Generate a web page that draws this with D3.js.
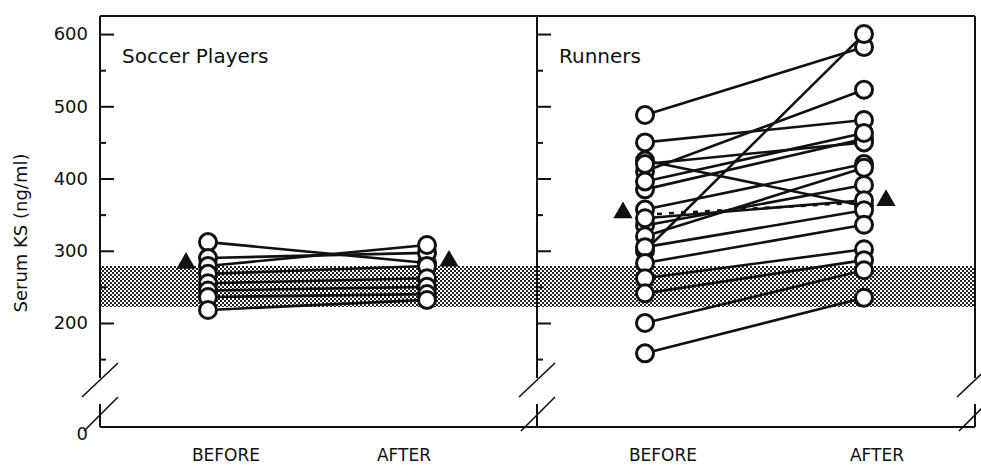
<!DOCTYPE html>
<html>
<head>
<meta charset="utf-8">
<script src="https://cdn.jsdelivr.net/npm/d3@7"></script>
<style>
  body { margin: 0; background: #fff; }
  svg text { font-family: "DejaVu Sans", "Liberation Sans", Arial, sans-serif; fill: #111; }
</style>
</head>
<body>
<div id="chart"></div>
<script>
// values (ng/ml)
var phases = ["BEFORE", "AFTER"];
var yTickValues = [0, 200, 300, 400, 500, 600];
var yMinorValues = [150, 250, 350, 450, 550];
var normalRange = [222, 279];

var soccerBefore = [312, 290, 279, 268, 255, 245, 236, 218];
var soccerAfter  = [283, 297, 308, 279, 262, 250, 240, 232];
var soccerMean   = [280, 283];

var runnersBefore = [488, 300, 410, 450, 425, 385, 420, 357, 396, 335, 345, 320, 305, 283, 262, 241, 200, 158];
var runnersAfter  = [582, 600, 523, 481, 362, 455, 450, 420, 463, 391, 370, 415, 356, 336, 302, 287, 273, 235];
var runnersMean   = [350, 367];

var width = 981, height = 469
var plotTop = 16, plotBottom = 427
var panels = [
  {name: "Soccer Players", left: 100, right: 537, before: soccerBefore, after: soccerAfter, mean: soccerMean, dashed: false, labelShift: [18, -23]},
  {name: "Runners", left: 537, right: 975, before: runnersBefore, after: runnersAfter, mean: runnersMean, dashed: true, labelShift: [18, 13]}
]

var svg = d3.select("#chart").append("svg")
    .attr("width", width)
    .attr("height", height)

// broken scale: 0 sits on the floor, 110..625 is linear above the break
var y = d3.scaleLinear().domain([0, 110, 625]).range([plotBottom, 388, plotTop])

var pat = svg.append("defs").append("pattern")
    .attr("id", "dots")
    .attr("patternUnits", "userSpaceOnUse")
    .attr("width", 4).attr("height", 4)
pat.append("rect").attr("width", 4).attr("height", 4).attr("fill", "#fff")
pat.append("rect").attr("x", 0).attr("y", 0).attr("width", 2).attr("height", 2).attr("fill", "#222")
pat.append("rect").attr("x", 2).attr("y", 2).attr("width", 2).attr("height", 2).attr("fill", "#222")

// shaded normal range across both panels
svg.append("rect")
    .attr("x", panels[0].left)
    .attr("y", y(normalRange[1]))
    .attr("width", panels[1].right - panels[0].left)
    .attr("height", y(normalRange[0]) - y(normalRange[1]))
    .attr("fill", "url(#dots)")
    .attr("shape-rendering", "crispEdges")

var frame = svg.append("g").attr("stroke", "#111").attr("stroke-width", 2).attr("fill", "none")
frame.append("line").attr("x1", panels[0].left).attr("x2", panels[1].right).attr("y1", plotTop).attr("y2", plotTop)
frame.append("line").attr("x1", panels[0].left).attr("x2", panels[1].right).attr("y1", plotBottom).attr("y2", plotBottom)

var gapTop = 378, gapBottom = 404
;[panels[0].left, panels[1].left, panels[1].right].forEach(function(x) {
  frame.append("line").attr("x1", x).attr("x2", x).attr("y1", plotTop).attr("y2", gapTop)
  frame.append("line").attr("x1", x).attr("x2", x).attr("y1", gapBottom).attr("y2", plotBottom)
  frame.append("line").attr("x1", x - 18).attr("y1", 397).attr("x2", x + 18).attr("y2", 363).attr("stroke-width", 1.6)
  frame.append("line").attr("x1", x - 16).attr("y1", 431).attr("x2", x + 18).attr("y2", 397).attr("stroke-width", 1.6)
})

// inward ticks on both panel left edges
panels.forEach(function(p) {
  var major = svg.append("g")
      .attr("transform", "translate(" + p.left + ",0)")
      .call(d3.axisRight(y).tickValues(yTickValues.slice(1)).tickSize(14).tickFormat(""))
  var minor = svg.append("g")
      .attr("transform", "translate(" + p.left + ",0)")
      .call(d3.axisRight(y).tickValues(yMinorValues).tickSize(6).tickFormat(""))
  ;[major, minor].forEach(function(g) {
    g.select(".domain").remove()
    g.selectAll("line").attr("stroke", "#111").attr("stroke-width", 2)
  })
})

var yLabels = svg.append("g")
    .attr("transform", "translate(" + panels[0].left + ",0)")
    .call(d3.axisLeft(y).tickValues(yTickValues).tickSize(0).tickPadding(12))
yLabels.select(".domain").remove()
yLabels.selectAll("text")
    .attr("font-size", 18)
    .attr("font-family", "DejaVu Sans, Liberation Sans, Arial, sans-serif")
    .attr("fill", "#111")
yLabels.selectAll(".tick").filter(function(d) { return d === 0 })
    .select("text").attr("dy", "0.7em")

svg.append("text")
    .attr("transform", "translate(27,233) rotate(-90)")
    .attr("text-anchor", "middle")
    .attr("font-size", 18)
    .text("Serum KS (ng/ml)")

panels.forEach(function(p) {
  var x = d3.scaleLinear().domain([0, 1]).range([p.left + 108, p.left + 327])
  var g = svg.append("g")

  g.append("text")
    .attr("x", p.left + 22)
    .attr("y", 63)
    .attr("font-size", 20)
    .text(p.name)

  var pairs = p.before.map(function(b, i) { return [b, p.after[i]] })

  g.selectAll(".pair").data(pairs).enter().append("line")
    .attr("x1", x(0)).attr("x2", x(1))
    .attr("y1", function(d) { return y(d[0]) })
    .attr("y2", function(d) { return y(d[1]) })
    .attr("stroke", "#111")
    .attr("stroke-width", 2.6)

  if (p.dashed) {
    g.append("line")
      .attr("x1", x(0)).attr("x2", x(1))
      .attr("y1", y(p.mean[0])).attr("y2", y(p.mean[1]))
      .attr("stroke", "#111")
      .attr("stroke-width", 2.6)
      .attr("stroke-dasharray", "5,7")
  }

  ;[0, 1].forEach(function(k) {
    g.selectAll(".c" + k).data(k === 0 ? p.before : p.after).enter().append("circle")
      .attr("cx", x(k))
      .attr("cy", function(d) { return y(d) })
      .attr("r", 8.5)
      .attr("fill", "#fff")
      .attr("stroke", "#111")
      .attr("stroke-width", 3)
  })

  g.selectAll(".mean").data(p.mean).enter().append("path")
    .attr("d", d3.symbol().type(d3.symbolTriangle).size(160))
    .attr("transform", function(d, i) {
      return "translate(" + (x(i) + (i === 0 ? -22 : 22)) + "," + (y(d) - 2) + ")"
    })
    .attr("fill", "#111")

  g.selectAll(".phase").data(phases).enter().append("text")
    .attr("x", function(d, i) { return x(i) + p.labelShift[i] })
    .attr("y", 461)
    .attr("text-anchor", "middle")
    .attr("font-size", 17)
    .text(function(d) { return d })
})
</script>
</body>
</html>
